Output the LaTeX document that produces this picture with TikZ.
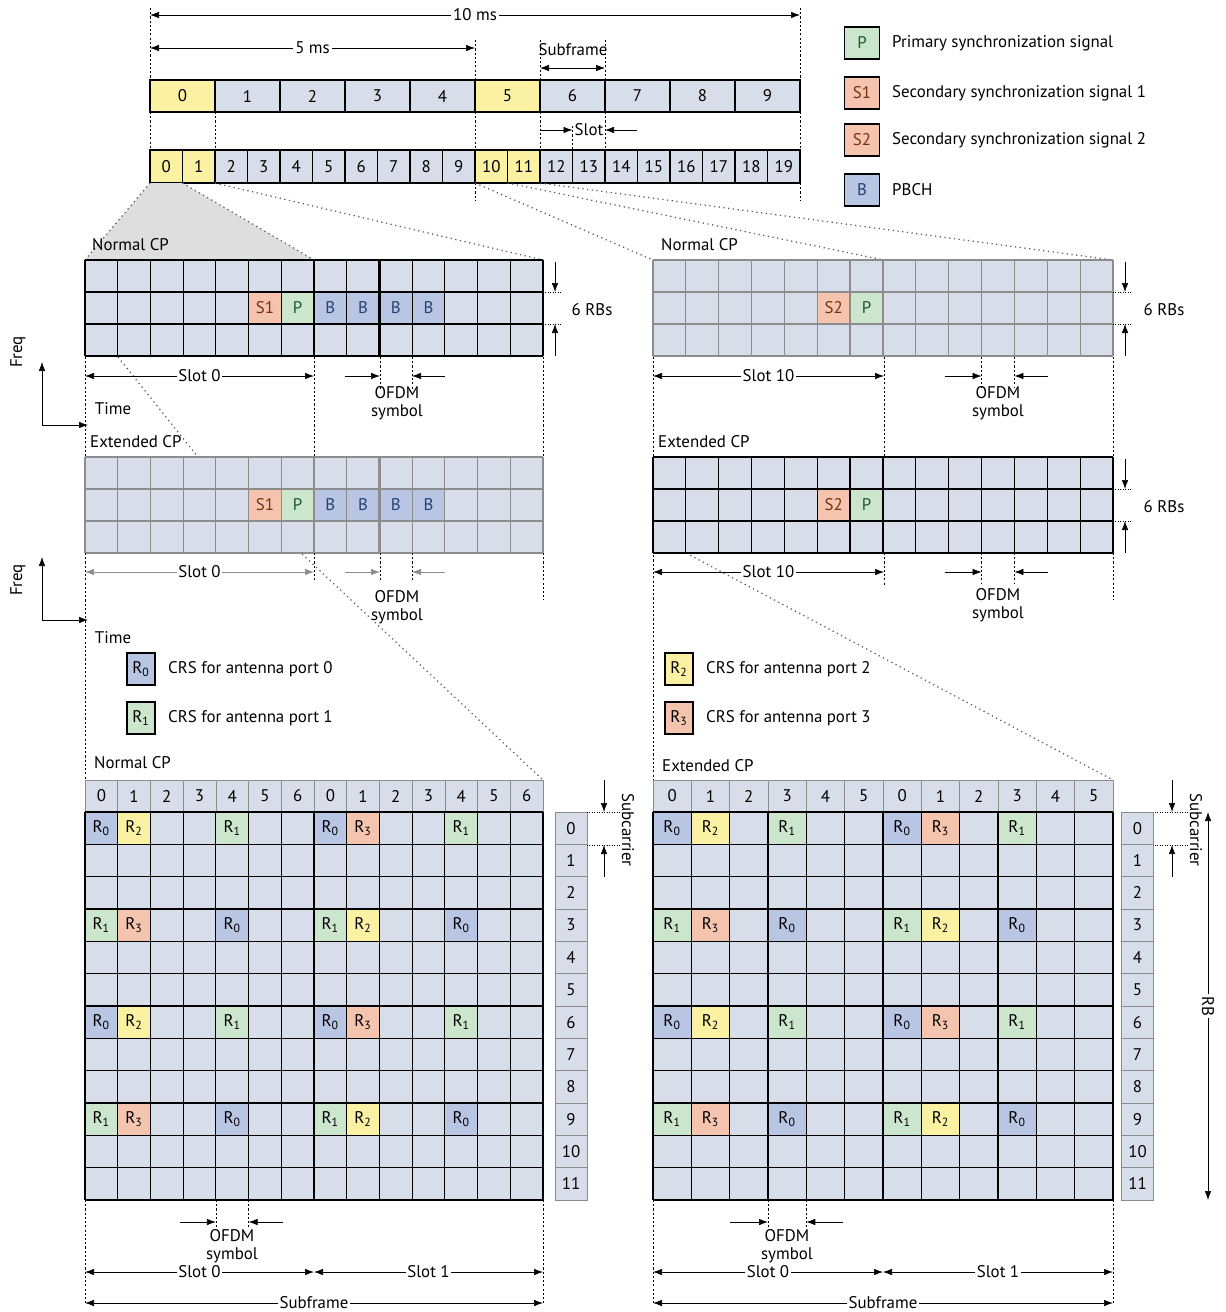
\documentclass[tikz,border=0pt]{standalone}
\usepackage{fontspec}
\setmainfont{PT Sans}
\usetikzlibrary{arrows.meta, calc}
\definecolor{celda}{HTML}{D8DDEA}
\definecolor{amarillo}{HTML}{FBF1A3}
\definecolor{verdeP}{HTML}{CCE6CD}
\definecolor{rojoS}{HTML}{F5C4AE}
\definecolor{azulB}{HTML}{B8C6E4}
\definecolor{grisLinea}{HTML}{8C8C8C}
\definecolor{grisZoom}{HTML}{DEDEDE}
\definecolor{textoB}{HTML}{2B3F73}
\definecolor{textoS}{HTML}{7A2F10}
\definecolor{textoP}{HTML}{1F5A2A}
\colorlet{rc0}{azulB}
\colorlet{rc1}{verdeP}
\colorlet{rc2}{amarillo}
\colorlet{rc3}{rojoS}

\begin{document}
\begin{tikzpicture}[x=0.2mm, y=-0.2mm, font=\fontsize{9.6}{10.4}\selectfont, >={Latex[length=1.8mm, width=1.3mm]},
        caja/.style={draw, line width=0.6pt, fill=celda, inner sep=0pt, outer sep=0pt},
        cabecera/.style={draw=grisLinea, fill=celda, inner sep=0pt, outer sep=0pt, minimum height=6.4mm},
        celdaC/.style={inner sep=0pt, outer sep=0pt},
        dim/.style={<->},
        guia/.style={dash pattern=on 1.2pt off 1.2pt},
        zoomL/.style={dotted, line width=0.7pt, black!65},
        etiq/.style={fill=white, inner sep=1pt}]
    \useasboundingbox (0,0) rectangle (1225,1312);

    % trama de radio
    \draw[dim] (150,15) -- node[etiq] (l10ms) {10 ms} (800,15);
    \draw[dim] (150,48) -- node[etiq] (l5ms) {5 ms} (475,48);
    \node (lsubf) at (573,50) {Subframe};
    \draw[dim] (540,68) -- (605,68);
    \foreach \x/\ya/\yb in {150/8/80, 800/8/80, 475/40/80, 540/40/80, 605/40/80, 150/112/150, 215/112/150,
            475/112/150, 540/112/150, 605/112/150, 800/112/150, 572.5/126/150, 475/183/200, 800/183/200}
        \draw[guia] (\x,\ya) -- (\x,\yb);
    \foreach \i in {0,5}
        \node[caja, fill=amarillo, minimum width=13mm, minimum height=6.4mm] (sf\i) at ({182.5+65*\i},96) {\i};
    \foreach \i in {1,...,4,6,7,8,9}
        \node[caja, minimum width=13mm, minimum height=6.4mm] (sf\i) at ({182.5+65*\i},96) {\i};
    \foreach \i in {0,1,10,11}
        \node[caja, fill=amarillo, minimum width=6.5mm, minimum height=6.6mm] (sl\i) at ({166.25+32.5*\i},166.5) {\i};
    \foreach \i in {2,...,9,12,13,...,19}
        \node[caja, minimum width=6.5mm, minimum height=6.6mm] (sl\i) at ({166.25+32.5*\i},166.5) {\i};
    \draw[->] (540,130) -- (572.5,130);
    \draw[->] (637,130) -- (605,130);
    \node[inner sep=1pt] (lslot) at (589,130) {Slot};

    % leyenda
    \foreach \y/\t/\c/\tc/\d [count=\k] in {43/P/verdeP/textoP/Primary synchronization signal,
            93/S1/rojoS/textoS/Secondary synchronization signal 1,
            140/S2/rojoS/textoS/Secondary synchronization signal 2, 190/B/azulB/textoB/PBCH} {
        \node[caja, fill=\c, text=\tc, minimum width=7mm, minimum height=6.4mm] (ley\k) at (862,\y) {\t};
        \node[anchor=west] (leyt\k) at (886,\y) {\d};
    }

    % lineas de zoom
    \fill[grisZoom] (150,183) -- (182.5,183) -- (314,260) -- (85,260) -- cycle;
    \draw[zoomL] (150,183) -- (85,260);
    \draw[zoomL] (182.5,183) -- (314,260);
    \draw[zoomL] (215,183) -- (543,260);
    \draw[zoomL] (475,183) -- (653,260);
    \draw[zoomL] (507.5,183) -- (884,260);
    \draw[zoomL] (540,183) -- (1113,260);
    \draw[zoomL] (118,357) -- (198,457) -- (301,553) -- (543,780);
    \draw[zoomL] (686,553) -- (1113,780);

    % rejillas de sincronizacion
    \foreach \gx/\gy/\gw in {85/260/32.714, 653/260/32.857, 85/457/32.714, 653/457/32.857}
        \fill[celda] (\gx,\gy) rectangle ({\gx+14*\gw},{\gy+96});
    \foreach \gy/\n in {260/n, 457/e} {
        \node[celdaC, fill=rojoS, text=textoS, minimum width=6.543mm, minimum height=6.4mm] (s1\n) at ({85+5.5*32.714},{\gy+48}) {S1};
        \node[celdaC, fill=verdeP, text=textoP, minimum width=6.543mm, minimum height=6.4mm] (pl\n) at ({85+6.5*32.714},{\gy+48}) {P};
        \foreach \c in {7,...,10}
            \node[celdaC, fill=azulB, text=textoB, minimum width=6.543mm, minimum height=6.4mm] (b\n\c) at ({85+(\c+0.5)*32.714},{\gy+48}) {B};
        \node[celdaC, fill=rojoS, text=textoS, minimum width=6.571mm, minimum height=6.4mm] (s2\n) at ({653+5.5*32.857},{\gy+48}) {S2};
        \node[celdaC, fill=verdeP, text=textoP, minimum width=6.571mm, minimum height=6.4mm] (pr\n) at ({653+6.5*32.857},{\gy+48}) {P};
    }
    \foreach \gx/\gy/\gw/\lc in {85/260/32.714/black, 653/260/32.857/grisLinea, 85/457/32.714/grisLinea, 653/457/32.857/black} {
        \foreach \k in {0,...,14}
            \draw[color=\lc, line width=0.6pt] ({\gx+\k*\gw},\gy) -- ++(0,96);
        \foreach \k in {0,...,3}
            \draw[color=\lc, line width=0.6pt] (\gx,{\gy+\k*32}) -- ({\gx+14*\gw},{\gy+\k*32});
    }
    \foreach \gy/\lc in {260/black, 457/grisLinea}
        \foreach \k in {7,9}
            \draw[color=\lc, line width=1.4pt] ({85+\k*32.714},\gy) -- ++(0,96);
    \draw[grisLinea, line width=1.4pt] ({653+6*32.857},260) -- ++(0,96);
    \draw[black, line width=1.4pt] ({653+6*32.857},457) -- ++(0,96);
    \node[anchor=west] (ncpl) at (86,245) {Normal CP};
    \node[anchor=west] (ncpr) at (655,245) {Normal CP};
    \node[anchor=west] (ecpl) at (84,442) {Extended CP};
    \node[anchor=west] (ecpr) at (652,442) {Extended CP};

    % cotas de las rejillas
    \foreach \x/\ya/\yb in {85/357/457, 314/357/457, 380/357/390, 412/357/390, 543/357/457,
            85/553/780, 314/553/582, 380/553/582, 412/553/582, 543/553/600,
            653/357/780, 884/357/457, 981.6/357/388, 1014.4/357/388, 1113/357/457,
            884/553/585, 981.6/553/583, 1014.4/553/583, 1113/553/600,
            85/1200/1305, 543/1200/1305, 653/1200/1305, 1113/1200/1305,
            215.9/1200/1228, 248.6/1200/1228, 768/1200/1228, 806.3/1200/1228}
        \draw[guia] (\x,\ya) -- (\x,\yb);
    \draw[dim] (85,376) -- node[etiq] (ls0n) {Slot 0} (314,376);
    \draw[->] (345,376) -- (380,376);
    \draw[->] (445,376) -- (412,376);
    \node[align=center] (ofdm1) at (397,403) {OFDM\\symbol};
    \draw[dim] (653,376) -- node[etiq] (ls10n) {Slot 10} (884,376);
    \draw[->] (945,376) -- (981.6,376);
    \draw[->] (1048,376) -- (1014.4,376);
    \node[align=center] (ofdm2) at (998,403) {OFDM\\symbol};
    \draw[dim, grisLinea] (85,572) -- node[etiq, text=black] (ls0e) {Slot 0} (314,572);
    \draw[->, grisLinea] (345,572) -- (380,572);
    \draw[->, grisLinea] (445,572) -- (412,572);
    \node[align=center] (ofdm3) at (397,607) {OFDM\\symbol};
    \draw[dim] (653,572) -- node[etiq] (ls10e) {Slot 10} (884,572);
    \draw[->] (945,572) -- (981.6,572);
    \draw[->] (1048,572) -- (1014.4,572);
    \node[align=center] (ofdm4) at (998,605) {OFDM\\symbol};
    \foreach \x/\gy/\lx [count=\k] in {555/260/592, 1125/260/1164, 1125/457/1164} {
        \draw[->] (\x,{\gy+2}) -- (\x,{\gy+32});
        \draw[->] (\x,{\gy+96}) -- (\x,{\gy+64});
        \draw[densely dotted] ({\x-12},{\gy+32}) -- ({\x+6},{\gy+32});
        \draw[densely dotted] ({\x-12},{\gy+64}) -- ({\x+6},{\gy+64});
        \node (rbs\k) at (\lx,{\gy+50}) {6 RBs};
    }
    \draw[<->] (42,362) -- (42,425) -- (88,425);
    \node[rotate=90] (fq1) at (18,352) {Freq};
    \node (tm1) at (113,409) {Time};
    \draw[<->] (42,557) -- (42,620) -- (88,620);
    \node[rotate=90] (fq2) at (18,580) {Freq};
    \node (tm2) at (113,638) {Time};

    % leyenda CRS
    \foreach \x/\y/\p in {141/669/0, 141/718/1, 679/669/2, 679/718/3} {
        \node[caja, fill=rc\p, minimum width=5.6mm, minimum height=6.4mm] (lr\p) at (\x,\y) {R\textsubscript{\p}};
        \node[anchor=west] (lrt\p) at ({\x+21},\y) {CRS for antenna port \p};
    }

    % rejillas CRS
    \node[anchor=west] (ncpb) at (88,763) {Normal CP};
    \node[anchor=west] (ecpb) at (656,766) {Extended CP};
    \foreach \c in {0,...,13} {
        \pgfmathtruncatemacro\lab{mod(\c,7)}
        \node[cabecera, minimum width=6.543mm] (hn\c) at ({85+(\c+0.5)*32.714},796) {\lab};
    }
    \foreach \c in {0,...,11} {
        \pgfmathtruncatemacro\lab{mod(\c,6)}
        \node[cabecera, minimum width=7.667mm] (he\c) at ({653+(\c+0.5)*38.333},796) {\lab};
    }
    \fill[celda] (85,812) rectangle (543,1200);
    \fill[celda] (653,812) rectangle (1113,1200);
    \foreach \r in {0,6}
        \foreach \c/\p in {0/0,1/2,4/1,7/0,8/3,11/1}
            \node[celdaC, fill=rc\p, minimum width=6.543mm, minimum height=6.467mm] (nr\r-\c) at ({85+(\c+0.5)*32.714},{812+(\r+0.5)*32.333}) {R\textsubscript{\p}};
    \foreach \r in {3,9}
        \foreach \c/\p in {0/1,1/3,4/0,7/1,8/2,11/0}
            \node[celdaC, fill=rc\p, minimum width=6.543mm, minimum height=6.467mm] (nr\r-\c) at ({85+(\c+0.5)*32.714},{812+(\r+0.5)*32.333}) {R\textsubscript{\p}};
    \foreach \r in {0,6}
        \foreach \c/\p in {0/0,1/2,3/1,6/0,7/3,9/1}
            \node[celdaC, fill=rc\p, minimum width=7.667mm, minimum height=6.467mm] (er\r-\c) at ({653+(\c+0.5)*38.333},{812+(\r+0.5)*32.333}) {R\textsubscript{\p}};
    \foreach \r in {3,9}
        \foreach \c/\p in {0/1,1/3,3/0,6/1,7/2,9/0}
            \node[celdaC, fill=rc\p, minimum width=7.667mm, minimum height=6.467mm] (er\r-\c) at ({653+(\c+0.5)*38.333},{812+(\r+0.5)*32.333}) {R\textsubscript{\p}};
    \foreach \k in {0,...,14}
        \draw[line width=0.6pt] ({85+\k*32.714},812) -- ++(0,388);
    \foreach \k in {0,...,12}
        \draw[line width=0.6pt] ({653+\k*38.333},812) -- ++(0,388);
    \foreach \k in {0,...,12} {
        \draw[line width=0.6pt] (85,{812+\k*32.333}) -- (543,{812+\k*32.333});
        \draw[line width=0.6pt] (653,{812+\k*32.333}) -- (1113,{812+\k*32.333});
    }
    \draw[line width=1.4pt] (314,812) -- (314,1200);
    \draw[line width=1.4pt] (883,812) -- (883,1200);
    \foreach \r in {0,...,11} {
        \node[cabecera, minimum width=6.4mm, minimum height=6.467mm] (il\r) at (571,{812+(\r+0.5)*32.333}) {\r};
        \node[cabecera, minimum width=6.4mm, minimum height=6.467mm] (ir\r) at (1137.5,{812+(\r+0.5)*32.333}) {\r};
    }
    \foreach \x [count=\k] in {604, 1172} {
        \draw[->] (\x,780) -- (\x,812);
        \draw[->] (\x,877) -- (\x,845);
        \draw[densely dotted] ({\x-17},812) -- ({\x+17},812);
        \draw[densely dotted] ({\x-17},845) -- ({\x+17},845);
        \node[rotate=-90] (subc\k) at ({\x+24},830) {Subcarrier};
    }
    \draw[dim] (1208,812) -- node[etiq, rotate=-90] (lrb) {RB} (1208,1200);

    % cotas inferiores
    \draw[->] (180,1222) -- (215.9,1222);
    \draw[->] (283,1222) -- (248.6,1222);
    \node[align=center] (ofdm5) at (232,1246) {OFDM\\symbol};
    \draw[dim] (85,1272) -- node[etiq] (lb0n) {Slot 0} (314,1272);
    \draw[dim] (314,1272) -- node[etiq] (lb1n) {Slot 1} (543,1272);
    \draw[dim] (85,1303) -- node[etiq] (lsfn) {Subframe} (543,1303);
    \draw[->] (730,1222) -- (768,1222);
    \draw[->] (843,1222) -- (806.3,1222);
    \node[align=center] (ofdm6) at (787,1246) {OFDM\\symbol};
    \draw[dim] (653,1272) -- node[etiq] (lb0e) {Slot 0} (883,1272);
    \draw[dim] (883,1272) -- node[etiq] (lb1e) {Slot 1} (1113,1272);
    \draw[dim] (653,1303) -- node[etiq] (lsfe) {Subframe} (1113,1303);
\end{tikzpicture}
\end{document}
